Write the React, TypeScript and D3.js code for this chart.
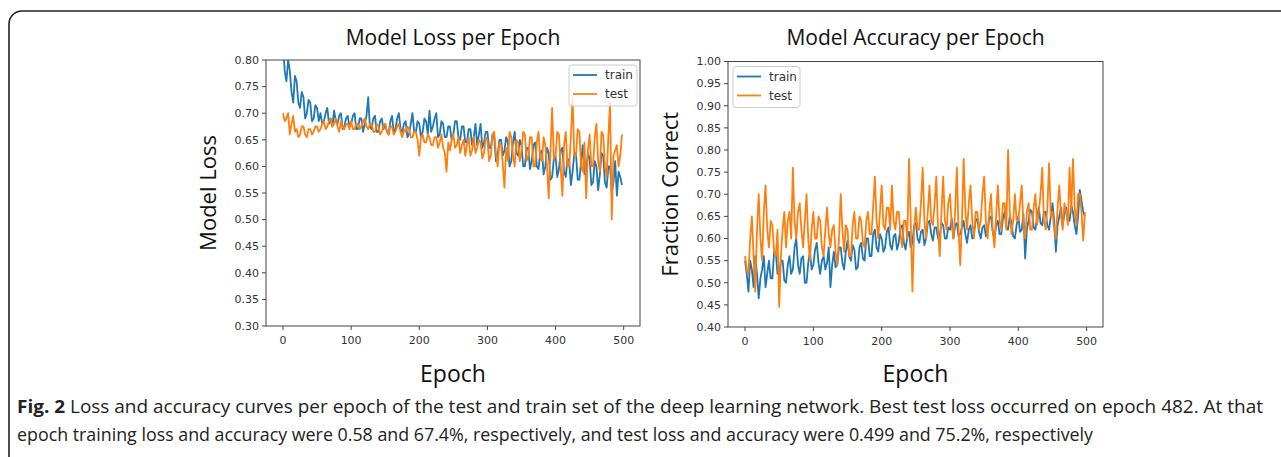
import React from 'react'
import * as d3 from 'd3'

// epochs sampled every 2.5 (0..497.5), 200 points per series
const epochs = d3.range(0, 500, 2.5)

const lossTrain = [
  0.83, 0.78, 0.76, 0.80, 0.78, 0.74, 0.72, 0.77, 0.76, 0.72, 0.71, 0.74, 0.73, 0.69, 0.70, 0.725, 0.72, 0.685, 0.69, 0.715,
  0.71, 0.685, 0.70, 0.68, 0.685, 0.70, 0.71, 0.68, 0.69, 0.675, 0.705, 0.685, 0.68, 0.695, 0.70, 0.67, 0.675, 0.69, 0.695, 0.675,
  0.68, 0.695, 0.70, 0.67, 0.67, 0.69, 0.69, 0.665, 0.68, 0.695, 0.73, 0.675, 0.67, 0.69, 0.695, 0.665, 0.665, 0.685, 0.69, 0.67,
  0.68, 0.665, 0.66, 0.685, 0.695, 0.665, 0.67, 0.69, 0.70, 0.67, 0.665, 0.68, 0.685, 0.655, 0.66, 0.68, 0.70, 0.665, 0.665, 0.685,
  0.68, 0.655, 0.665, 0.69, 0.685, 0.66, 0.705, 0.665, 0.675, 0.69, 0.70, 0.655, 0.66, 0.685, 0.68, 0.655, 0.655, 0.675, 0.675, 0.65,
  0.66, 0.685, 0.685, 0.655, 0.65, 0.675, 0.675, 0.645, 0.645, 0.67, 0.67, 0.64, 0.655, 0.68, 0.64, 0.66, 0.68, 0.635, 0.645, 0.665,
  0.665, 0.635, 0.635, 0.66, 0.655, 0.61, 0.62, 0.65, 0.65, 0.62, 0.63, 0.655, 0.645, 0.60, 0.61, 0.645, 0.665, 0.625, 0.62, 0.65,
  0.64, 0.60, 0.60, 0.635, 0.635, 0.595, 0.61, 0.64, 0.645, 0.60, 0.595, 0.625, 0.63, 0.585, 0.60, 0.635, 0.625, 0.575, 0.58, 0.615,
  0.62, 0.58, 0.595, 0.63, 0.635, 0.59, 0.58, 0.615, 0.61, 0.565, 0.59, 0.625, 0.625, 0.575, 0.575, 0.61, 0.64, 0.585, 0.59, 0.625,
  0.615, 0.565, 0.57, 0.61, 0.60, 0.555, 0.585, 0.625, 0.62, 0.57, 0.56, 0.60, 0.60, 0.55, 0.57, 0.61, 0.545, 0.59, 0.58, 0.565,
]

const lossTest = [
  0.70, 0.685, 0.69, 0.70, 0.66, 0.68, 0.695, 0.665, 0.67, 0.655, 0.66, 0.675, 0.675, 0.66, 0.655, 0.67, 0.67, 0.66, 0.665, 0.675,
  0.675, 0.665, 0.67, 0.68, 0.685, 0.67, 0.675, 0.685, 0.69, 0.675, 0.68, 0.69, 0.675, 0.665, 0.685, 0.675, 0.67, 0.68, 0.68, 0.67,
  0.685, 0.67, 0.67, 0.68, 0.68, 0.67, 0.675, 0.685, 0.69, 0.675, 0.67, 0.68, 0.68, 0.665, 0.665, 0.68, 0.675, 0.66, 0.665, 0.675,
  0.68, 0.665, 0.66, 0.675, 0.675, 0.66, 0.665, 0.675, 0.68, 0.665, 0.655, 0.67, 0.665, 0.675, 0.67, 0.655, 0.655, 0.665, 0.665, 0.65,
  0.62, 0.655, 0.66, 0.645, 0.645, 0.66, 0.655, 0.64, 0.64, 0.655, 0.655, 0.635, 0.645, 0.66, 0.635, 0.625, 0.59, 0.645, 0.63, 0.65,
  0.66, 0.635, 0.64, 0.655, 0.625, 0.64, 0.65, 0.62, 0.64, 0.655, 0.62, 0.63, 0.655, 0.625, 0.635, 0.65, 0.645, 0.615, 0.625, 0.655,
  0.65, 0.61, 0.62, 0.66, 0.665, 0.625, 0.60, 0.645, 0.64, 0.605, 0.56, 0.635, 0.61, 0.665, 0.655, 0.62, 0.60, 0.65, 0.645, 0.61,
  0.63, 0.665, 0.66, 0.61, 0.62, 0.655, 0.655, 0.60, 0.60, 0.645, 0.665, 0.615, 0.61, 0.655, 0.64, 0.60, 0.54, 0.625, 0.71, 0.615,
  0.62, 0.665, 0.66, 0.60, 0.545, 0.64, 0.665, 0.60, 0.60, 0.655, 0.73, 0.62, 0.62, 0.67, 0.665, 0.60, 0.59, 0.645, 0.54, 0.63,
  0.66, 0.60, 0.60, 0.655, 0.68, 0.61, 0.59, 0.665, 0.66, 0.60, 0.58, 0.655, 0.72, 0.50, 0.62, 0.63, 0.64, 0.60, 0.62, 0.66,
]

const accTrain = [
  0.55, 0.52, 0.48, 0.55, 0.53, 0.49, 0.56, 0.52, 0.465, 0.51, 0.53, 0.56, 0.49, 0.52, 0.55, 0.51, 0.51, 0.57, 0.57, 0.52,
  0.52, 0.55, 0.55, 0.505, 0.50, 0.54, 0.56, 0.52, 0.53, 0.58, 0.60, 0.54, 0.52, 0.555, 0.56, 0.50, 0.50, 0.545, 0.57, 0.53,
  0.54, 0.575, 0.59, 0.545, 0.52, 0.55, 0.56, 0.53, 0.545, 0.58, 0.49, 0.54, 0.57, 0.535, 0.54, 0.58, 0.58, 0.545, 0.53, 0.57,
  0.595, 0.56, 0.55, 0.585, 0.575, 0.53, 0.535, 0.58, 0.59, 0.555, 0.55, 0.60, 0.60, 0.56, 0.56, 0.61, 0.62, 0.58, 0.57, 0.61,
  0.60, 0.57, 0.58, 0.615, 0.625, 0.585, 0.575, 0.605, 0.61, 0.575, 0.59, 0.625, 0.63, 0.59, 0.575, 0.605, 0.615, 0.58, 0.59, 0.63,
  0.635, 0.60, 0.59, 0.615, 0.62, 0.585, 0.60, 0.635, 0.64, 0.61, 0.595, 0.625, 0.625, 0.60, 0.605, 0.635, 0.63, 0.60, 0.60, 0.625,
  0.62, 0.645, 0.60, 0.63, 0.635, 0.605, 0.61, 0.625, 0.64, 0.61, 0.59, 0.62, 0.63, 0.60, 0.61, 0.64, 0.645, 0.615, 0.60, 0.625,
  0.63, 0.605, 0.62, 0.645, 0.65, 0.615, 0.60, 0.63, 0.64, 0.61, 0.61, 0.645, 0.66, 0.625, 0.62, 0.65, 0.635, 0.605, 0.60, 0.63,
  0.65, 0.615, 0.62, 0.655, 0.555, 0.62, 0.64, 0.665, 0.66, 0.625, 0.62, 0.65, 0.67, 0.635, 0.63, 0.66, 0.66, 0.63, 0.62, 0.65,
  0.68, 0.64, 0.57, 0.63, 0.65, 0.67, 0.63, 0.655, 0.67, 0.64, 0.64, 0.675, 0.66, 0.63, 0.61, 0.65, 0.71, 0.685, 0.66, 0.65,
]

const accTest = [
  0.56, 0.53, 0.52, 0.60, 0.65, 0.56, 0.48, 0.62, 0.70, 0.60, 0.55, 0.66, 0.72, 0.62, 0.58, 0.64, 0.63, 0.57, 0.56, 0.62,
  0.445, 0.56, 0.62, 0.66, 0.58, 0.64, 0.66, 0.60, 0.76, 0.64, 0.60, 0.66, 0.68, 0.62, 0.58, 0.64, 0.70, 0.60, 0.55, 0.62,
  0.66, 0.60, 0.60, 0.65, 0.64, 0.58, 0.56, 0.62, 0.67, 0.61, 0.58, 0.62, 0.63, 0.57, 0.54, 0.60, 0.70, 0.62, 0.57, 0.63,
  0.62, 0.56, 0.56, 0.63, 0.66, 0.60, 0.60, 0.65, 0.64, 0.59, 0.58, 0.64, 0.66, 0.61, 0.61, 0.67, 0.74, 0.64, 0.60, 0.66,
  0.72, 0.63, 0.62, 0.67, 0.67, 0.62, 0.72, 0.64, 0.62, 0.66, 0.66, 0.61, 0.58, 0.64, 0.64, 0.60, 0.78, 0.64, 0.48, 0.62,
  0.67, 0.62, 0.62, 0.68, 0.76, 0.64, 0.60, 0.66, 0.72, 0.64, 0.63, 0.68, 0.74, 0.62, 0.56, 0.66, 0.74, 0.64, 0.62, 0.68,
  0.70, 0.63, 0.60, 0.66, 0.76, 0.62, 0.54, 0.64, 0.78, 0.66, 0.62, 0.68, 0.72, 0.64, 0.60, 0.66, 0.66, 0.62, 0.64, 0.70,
  0.74, 0.64, 0.60, 0.66, 0.70, 0.62, 0.58, 0.65, 0.72, 0.64, 0.62, 0.68, 0.68, 0.62, 0.80, 0.66, 0.61, 0.64, 0.70, 0.64,
  0.64, 0.68, 0.72, 0.63, 0.60, 0.66, 0.68, 0.62, 0.62, 0.67, 0.70, 0.63, 0.66, 0.70, 0.76, 0.64, 0.62, 0.67, 0.77, 0.65,
  0.66, 0.62, 0.60, 0.67, 0.72, 0.65, 0.62, 0.68, 0.66, 0.63, 0.76, 0.66, 0.78, 0.67, 0.63, 0.70, 0.70, 0.66, 0.595, 0.66,
]

const lossTicks = [0.30, 0.35, 0.40, 0.45, 0.50, 0.55, 0.60, 0.65, 0.70, 0.75, 0.80]
const accTicks = [0.40, 0.45, 0.50, 0.55, 0.60, 0.65, 0.70, 0.75, 0.80, 0.85, 0.90, 0.95, 1.00]
const epochTicks = [0, 100, 200, 300, 400, 500]

const BLUE = '#1f77b4'
const ORANGE = '#ff7f0e'
const tickFont = 'DejaVu Sans, sans-serif'
const labelFont = 'Open Sans, sans-serif'

type PanelProps = {
  id: string
  left: number
  right: number
  top: number
  bottom: number
  yDomain: [number, number]
  yTicks: number[]
  train: number[]
  test: number[]
  title: string
  yLabel: string
  legend: 'right' | 'left'
}

const Panel = ({ id, left, right, top, bottom, yDomain, yTicks, train, test, title, yLabel, legend }: PanelProps) => {
  const x = d3.scaleLinear().domain([-24.95, 523.95]).range([left, right])
  const y = d3.scaleLinear().domain(yDomain).range([bottom, top])
  const line = d3.line<number>()
    .x((_, i) => x(epochs[i]))
    .y(d => y(d))

  const cx = (left + right) / 2
  const lx = legend === 'right' ? right - 71 : left + 5
  const lw = legend === 'right' ? 68 : 67

  return (
    <g>
      <defs>
        <clipPath id={id}>
          <rect x={left} y={top} width={right - left} height={bottom - top} />
        </clipPath>
      </defs>
      <text x={cx} y={45} textAnchor="middle" fontFamily={labelFont} fontSize={21} fill="#111">{title}</text>

      <g clipPath={`url(#${id})`}>
        <path d={line(train) || ''} fill="none" stroke={BLUE} strokeWidth={1.8} strokeLinejoin="round" />
        <path d={line(test) || ''} fill="none" stroke={ORANGE} strokeWidth={1.8} strokeLinejoin="round" />
      </g>

      <rect x={left} y={top} width={right - left} height={bottom - top} fill="none" stroke="#444" strokeWidth={1} />

      {yTicks.map(t => (
        <g key={t}>
          <line x1={left - 4} x2={left} y1={y(t)} y2={y(t)} stroke="#444" />
          <text x={left - 7} y={y(t)} dy="0.35em" textAnchor="end" fontFamily={tickFont} fontSize={11} fill="#333">{t.toFixed(2)}</text>
        </g>
      ))}
      {epochTicks.map(t => (
        <g key={t}>
          <line x1={x(t)} x2={x(t)} y1={bottom} y2={bottom + 4} stroke="#444" />
          <text x={x(t)} y={bottom + 18} textAnchor="middle" fontFamily={tickFont} fontSize={11} fill="#333">{t}</text>
        </g>
      ))}

      <text x={cx} y={382} textAnchor="middle" fontFamily={labelFont} fontSize={23} fill="#111">Epoch</text>
      <text transform={`translate(${left - 50},${(top + bottom) / 2}) rotate(-90)`} textAnchor="middle" fontFamily={labelFont} fontSize={22} fill="#111">{yLabel}</text>

      <g>
        <rect x={lx} y={top + 5} width={lw} height={41} rx={3} fill="#fff" fillOpacity={0.8} stroke="#ccc" />
        <line x1={lx + 4} x2={lx + 28} y1={top + 15} y2={top + 15} stroke={BLUE} strokeWidth={1.8} />
        <text x={lx + 36} y={top + 15} dy="0.35em" fontFamily={tickFont} fontSize={12} fill="#333">train</text>
        <line x1={lx + 4} x2={lx + 28} y1={top + 34} y2={top + 34} stroke={ORANGE} strokeWidth={1.8} />
        <text x={lx + 36} y={top + 34} dy="0.35em" fontFamily={tickFont} fontSize={12} fill="#333">test</text>
      </g>
    </g>
  )
}

export default function App() {
  return (
    <svg width={1281} height={457} style={{ position: 'absolute', left: 0, top: 0, background: '#fff' }}>
      <path d="M9,470 L9,24 A13,13 0 0 1 22,11 L1290,11" fill="none" stroke="#222" strokeWidth={1.6} />

      <Panel id="lossClip" left={266} right={640} top={60} bottom={326}
        yDomain={[0.30, 0.80]} yTicks={lossTicks} train={lossTrain} test={lossTest}
        title="Model Loss per Epoch" yLabel="Model Loss" legend="right" />
      <Panel id="accClip" left={728} right={1103} top={61.5} bottom={327}
        yDomain={[0.40, 1.00]} yTicks={accTicks} train={accTrain} test={accTest}
        title="Model Accuracy per Epoch" yLabel="Fraction Correct" legend="left" />

      <text x={17} y={413} fontFamily={labelFont} fontSize={18} fill="#222" textLength={1246} lengthAdjust="spacingAndGlyphs">
        <tspan fontWeight="bold">Fig. 2</tspan> Loss and accuracy curves per epoch of the test and train set of the deep learning network. Best test loss occurred on epoch 482. At that
      </text>
      <text x={17} y={441} fontFamily={labelFont} fontSize={18} fill="#222" textLength={1076} lengthAdjust="spacingAndGlyphs">
        epoch training loss and accuracy were 0.58 and 67.4%, respectively, and test loss and accuracy were 0.499 and 75.2%, respectively
      </text>
    </svg>
  )
}
